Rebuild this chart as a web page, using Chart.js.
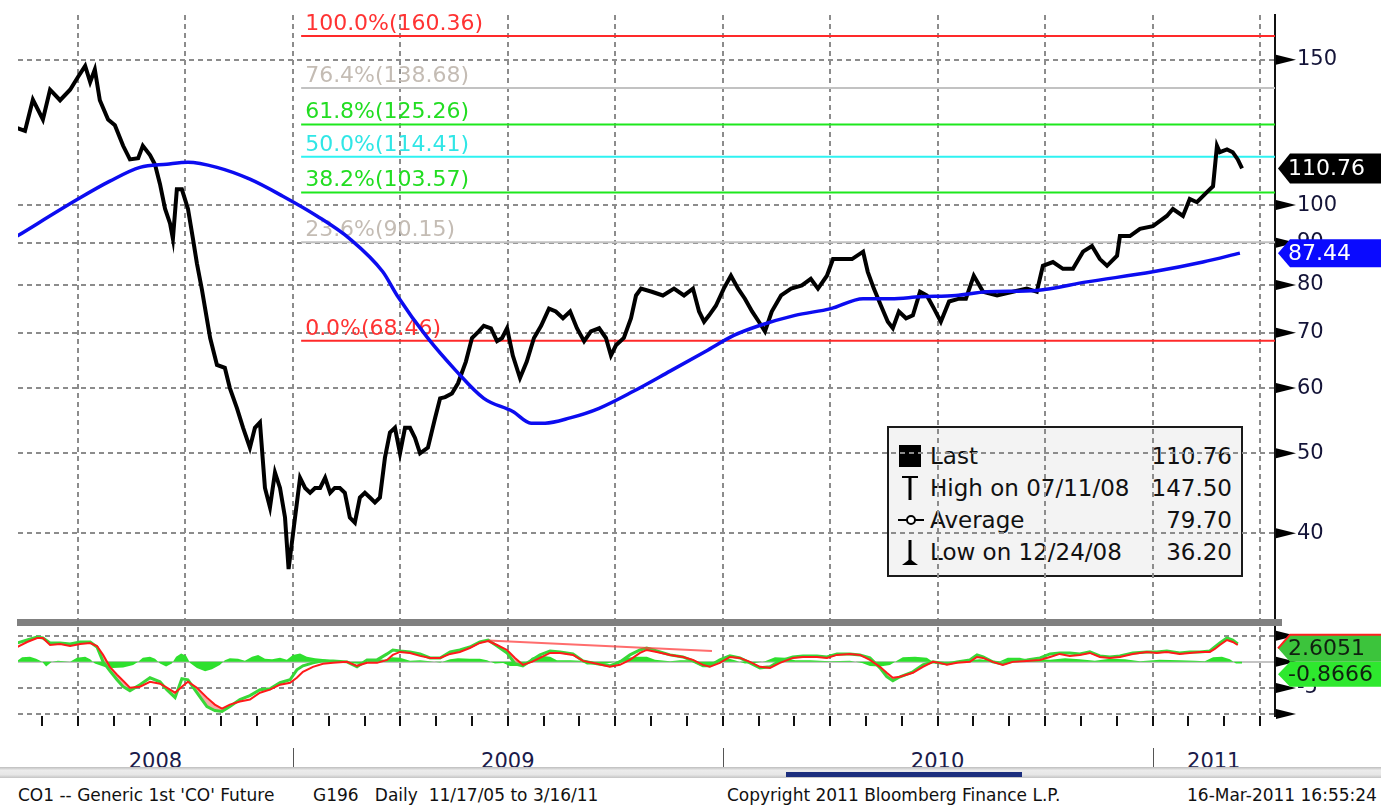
<!DOCTYPE html>
<html>
<head>
<meta charset="utf-8">
<script src="https://cdn.jsdelivr.net/npm/chart.js"></script>
<style>
  body { margin: 0; width: 1381px; height: 806px; overflow: hidden; position: relative; background: #fff; font-family: "DejaVu Sans", sans-serif; }
  canvas { position: absolute; left: 0; z-index: 2; }
  #main { top: 0; }
  #lower { top: 615px; }
  #legendBox { position: absolute; left: 887px; top: 426px; width: 352px; height: 147px; border: 2px solid #1a1a1a; background: #f3f3f3; z-index: 1; }
  .row { position: absolute; left: 0; width: 352px; height: 30px; line-height: 30px; font-size: 23px; color: #111; }
  .row svg { position: absolute; left: 9px; top: 0; }
  .row .lb { position: absolute; left: 41px; }
  .row .vl { position: absolute; right: 9px; }
  .year { position: absolute; top: 751px; width: 90px; height: 16px; overflow: hidden; text-align: center; font-size: 21px; line-height: 21px; color: #1a1a4a; }
  .sep { position: absolute; top: 748px; width: 1px; height: 19px; background: #555; }
  #band { position: absolute; left: 0; top: 767px; width: 1381px; height: 11px; background: linear-gradient(#bdbdbd, #ececec 30%, #e6e6e6 70%, #c4c4c4); }
  #thumb { position: absolute; left: 786px; top: 772px; width: 236px; height: 5px; background: #1c2f7e; }
  .foot { position: absolute; top: 787px; font-size: 17px; line-height: 17px; color: #111; white-space: pre; }
</style>
</head>
<body>
<div id="legendBox">
  <div class="row" style="top:13px"><svg width="26" height="30"><rect x="1" y="4" width="22" height="22" fill="#000"/></svg><span class="lb">Last</span><span class="vl">110.76</span></div>
  <div class="row" style="top:45px"><svg width="26" height="30"><line x1="4" y1="4" x2="20" y2="4" stroke="#000" stroke-width="2"/><line x1="12" y1="4" x2="12" y2="27" stroke="#000" stroke-width="3"/></svg><span class="lb">High on 07/11/08</span><span class="vl">147.50</span></div>
  <div class="row" style="top:77px"><svg width="26" height="30"><line x1="0" y1="15" x2="26" y2="15" stroke="#000" stroke-width="2"/><circle cx="13" cy="15" r="4" fill="#fff" stroke="#000" stroke-width="2"/></svg><span class="lb">Average</span><span class="vl">79.70</span></div>
  <div class="row" style="top:109px"><svg width="26" height="30"><line x1="12" y1="3" x2="12" y2="26" stroke="#000" stroke-width="3"/><path d="M4 28 L20 28 L12 22 Z" fill="#000"/></svg><span class="lb">Low on 12/24/08</span><span class="vl">36.20</span></div>
</div>
<canvas id="main" width="1381" height="620"></canvas>
<canvas id="lower" width="1381" height="115"></canvas>
<div id="band"></div>
<div id="thumb"></div>
<div class="foot" style="left:18px">CO1 -- Generic 1st 'CO' Future</div>
<div class="foot" style="left:313px">G196   Daily  11/17/05 to 3/16/11</div>
<div class="foot" style="left:727px">Copyright 2011 Bloomberg Finance L.P.</div>
<div class="foot" style="left:1187px">16-Mar-2011 16:55:24</div>
<script>
// x values are months counted from 1 Jan 2008
var xMin = 4.325, xMax = 39.42;
var quarterTicks = [6, 9, 12, 15, 18, 21, 24, 27, 30, 33, 36, 39];
var monthTicks = [];
for (var m = 5; m <= 39; m++) monthTicks.push(m);
var priceTicks = [40, 50, 60, 70, 80, 90, 100, 150];
var macdTicks = [-10, -5, 0, 5];
var yearStart = [2008, 2009, 2010, 2011];

// CO1 price
var priceMonth = [4.30, 4.52, 4.74, 5.02, 5.22, 5.50, 5.78, 6.00, 6.20, 6.34, 6.47, 6.61, 6.84, 7.03, 7.26, 7.45, 7.68, 7.81, 8.01, 8.15,
  8.29, 8.43, 8.57, 8.65, 8.76, 8.90, 9.07, 9.21, 9.32, 9.46, 9.55, 9.69, 9.88, 10.10, 10.24, 10.44, 10.61, 10.80, 10.94, 11.08,
  11.22, 11.36, 11.50, 11.64, 11.78, 11.88, 12.06, 12.20, 12.34, 12.48, 12.62, 12.76, 12.90, 13.04, 13.17, 13.31, 13.45, 13.59, 13.73, 13.87,
  14.01, 14.15, 14.29, 14.43, 14.57, 14.71, 14.85, 14.99, 15.13, 15.27, 15.41, 15.55, 15.77, 15.97, 16.11, 16.25, 16.44, 16.61, 16.83, 17.00,
  17.19, 17.33, 17.53, 17.70, 17.84, 17.98, 18.14, 18.34, 18.53, 18.73, 18.93, 19.15, 19.34, 19.54, 19.74, 19.93, 20.13, 20.32, 20.55, 20.74,
  20.88, 21.02, 21.24, 21.44, 21.58, 21.72, 22.02, 22.33, 22.64, 22.92, 23.17, 23.34, 23.48, 23.62, 23.81, 24.03, 24.23, 24.43, 24.62, 24.82,
  25.01, 25.18, 25.37, 25.63, 25.91, 26.21, 26.46, 26.66, 26.91, 27.08, 27.30, 27.61, 27.92, 28.05, 28.22, 28.42, 28.61, 28.75, 28.92, 29.12,
  29.31, 29.51, 29.70, 29.90, 30.09, 30.32, 30.60, 30.79, 31.01, 31.27, 31.66, 32.10, 32.49, 32.77, 32.94, 33.22, 33.50, 33.78, 34.06, 34.31,
  34.53, 34.73, 35.01, 35.09, 35.37, 35.65, 36.01, 36.40, 36.57, 36.85, 37.04, 37.24, 37.52, 37.69, 37.80, 37.88, 38.08, 38.24, 38.38, 38.50];
var priceClose = [124.0, 123.0, 134.2, 127.0, 138.0, 134.0, 138.0, 143.0, 147.5, 141.0, 146.0, 134.0, 127.0, 125.0, 118.0, 113.6, 114.0, 118.0, 115.0, 112.0,
  106.0, 99.0, 95.0, 91.0, 104.5, 104.5, 99.0, 91.0, 85.0, 79.0, 74.9, 69.0, 64.0, 63.5, 60.0, 56.7, 53.7, 50.8, 53.7, 54.5,
  45.4, 43.0, 47.4, 45.4, 41.8, 36.2, 41.8, 46.7, 45.4, 44.8, 45.4, 45.4, 46.7, 44.8, 45.4, 45.4, 44.8, 41.8, 41.2, 44.2,
  44.8, 44.2, 43.6, 44.2, 49.4, 53.0, 53.7, 50.0, 53.7, 53.7, 52.2, 50.0, 50.8, 55.2, 58.3, 58.5, 59.1, 60.8, 64.6, 69.0,
  70.3, 71.4, 70.9, 68.4, 69.0, 70.9, 65.7, 61.7, 64.6, 69.0, 71.4, 74.9, 74.3, 72.9, 74.3, 70.9, 68.4, 70.3, 70.9, 69.0,
  65.7, 67.6, 69.0, 72.9, 77.7, 79.2, 78.5, 77.7, 79.2, 77.7, 79.2, 74.3, 72.2, 73.5, 75.5, 79.2, 82.1, 79.2, 77.0, 74.3,
  72.2, 70.3, 74.3, 77.7, 79.2, 79.9, 81.4, 79.2, 82.1, 86.0, 86.0, 86.0, 87.8, 83.0, 79.2, 75.5, 72.2, 70.9, 74.3, 72.9,
  73.5, 78.5, 77.7, 74.9, 72.2, 76.4, 77.0, 77.0, 82.1, 78.5, 77.7, 78.5, 79.2, 78.5, 84.4, 85.3, 83.7, 83.7, 87.8, 89.2,
  86.0, 84.4, 86.8, 91.7, 91.7, 93.6, 94.3, 97.0, 98.9, 97.0, 101.7, 100.8, 103.7, 105.4, 118.0, 115.9, 116.8, 115.9, 113.6, 110.76];

// moving average (blue)
var avgMonth = [4.30, 6.00, 6.89, 7.73, 8.48, 9.07, 9.88, 10.80, 11.72, 12.67, 13.59, 14.51, 14.91, 15.74, 16.55, 17.33, 18.14, 18.65, 19.04,
  19.74, 20.55, 21.52, 22.53, 23.53, 24.31, 25.01, 26.02, 27.02, 27.92, 28.70, 29.51, 30.51, 31.38, 32.77, 34.17, 36.01, 37.41, 38.44];
var avgValue = [91.7, 101.7, 106.9, 111.1, 112.1, 112.7, 111.1, 107.5, 102.5, 97.0, 91.0, 83.0, 77.7, 69.2, 63.0, 58.3, 56.2, 54.4, 54.4,
  55.2, 56.7, 59.5, 62.9, 66.5, 69.5, 71.4, 73.5, 74.9, 77.0, 77.0, 77.4, 77.7, 78.5, 78.8, 80.7, 83.0, 85.3, 87.44];

// Fibonacci retracement
var fibStartMonth = 12.23;
var fibPct = ['100.0%', '76.4%', '61.8%', '50.0%', '38.2%', '23.6%', '0.0%'];
var fibLevel = [160.36, 138.68, 125.26, 114.41, 103.57, 90.15, 68.46];

// lower panel
var macdMonth = [4.30, 4.58, 4.86, 5.02, 5.22, 5.50, 5.78, 6.06, 6.34, 6.53, 6.70, 6.89, 7.09, 7.26, 7.45, 7.73, 8.01, 8.29, 8.48, 8.71,
  8.90, 9.07, 9.32, 9.60, 9.82, 10.02, 10.24, 10.52, 10.80, 11.08, 11.36, 11.64, 11.92, 12.11, 12.28, 12.56, 12.84, 13.12, 13.51, 13.79,
  14.07, 14.35, 14.63, 14.79, 14.99, 15.27, 15.55, 15.83, 16.11, 16.39, 16.66, 16.94, 17.22, 17.45, 17.70, 17.98, 18.20, 18.42, 18.67, 18.90,
  19.18, 19.46, 19.82, 20.10, 20.49, 20.85, 21.13, 21.41, 21.69, 21.88, 22.16, 22.53, 22.89, 23.17, 23.45, 23.64, 23.92, 24.20, 24.48, 24.76,
  25.04, 25.32, 25.60, 25.96, 26.24, 26.63, 26.91, 27.19, 27.55, 27.83, 28.11, 28.39, 28.58, 28.75, 28.95, 29.31, 29.59, 29.87, 30.06, 30.26,
  30.54, 30.90, 31.10, 31.27, 31.54, 31.82, 32.10, 32.49, 32.86, 33.14, 33.41, 33.69, 33.97, 34.25, 34.53, 34.81, 35.09, 35.45, 35.84, 36.12,
  36.40, 36.76, 37.04, 37.32, 37.60, 37.74, 37.88, 38.08, 38.24, 38.38];
var macdRed = [2.86, 3.82, 4.58, 4.58, 3.24, 3.44, 3.05, 3.44, 3.63, 3.05, 1.34, -0.95, -2.48, -3.63, -4.96, -4.77, -3.82, -4.20, -4.96, -5.92,
  -4.77, -3.82, -4.96, -6.87, -8.21, -8.97, -8.21, -7.63, -7.25, -5.92, -5.34, -4.39, -4.01, -3.05, -1.91, -0.95, -0.38, -0.19, 0, -0.76,
  -0.19, -0.19, 0.38, 1.34, 1.91, 1.72, 1.15, 0.76, 0.76, 1.53, 1.91, 2.67, 3.63, 4.01, 3.24, 2.29, 0.76, -0.57, 0, 0.76,
  1.72, 1.72, 1.34, 0.19, -0.38, -0.95, -0.57, 0.38, 1.72, 2.29, 1.91, 1.34, 0.95, 0.38, -0.57, -0.95, -0.19, 0.95, 0.76, 0,
  -0.95, -1.15, -0.19, 0.76, 0.95, 0.95, 0.76, 1.34, 1.53, 1.34, 0.38, -0.95, -2.10, -3.05, -2.86, -2.10, -0.95, 0, -0.19, -0.57,
  -0.19, 0, 0.95, 0.76, 0, -0.57, 0, 0.19, 0.38, 0.95, 1.53, 1.15, 1.34, 1.72, 0.95, 0.76, 0.95, 1.53, 1.91, 1.72,
  1.91, 1.53, 1.72, 1.91, 1.91, 2.48, 3.24, 4.20, 3.82, 3.24];
var macdGreen = [3.63, 4.20, 4.77, 4.58, 3.63, 3.63, 3.44, 3.82, 3.82, 2.86, 0, -1.72, -3.44, -4.77, -5.53, -4.39, -3.05, -3.82, -5.34, -6.87,
  -3.24, -3.44, -5.92, -8.59, -9.35, -9.54, -8.59, -7.25, -6.49, -5.34, -5.15, -4.01, -3.44, -1.53, -0.76, -0.19, 0.19, 0.19, 0, -0.95,
  0.38, 0.38, 1.53, 2.29, 2.10, 1.91, 1.53, 0.76, 0.76, 1.91, 2.29, 2.86, 3.82, 4.20, 3.05, 1.72, -0.38, -0.76, 0.38, 1.34,
  2.10, 1.91, 1.53, 0.19, -0.38, -0.76, 0, 1.34, 2.29, 2.67, 2.10, 1.34, 0.95, 0.19, -0.76, -0.76, 0.38, 1.15, 0.76, -0.19,
  -1.15, -0.95, 0.19, 0.95, 1.15, 1.15, 0.95, 1.53, 1.53, 1.34, 0.76, -1.15, -2.86, -3.63, -2.86, -1.91, -0.57, 0, -0.19, -0.38,
  0, 0.38, 1.34, 0.95, 0, -0.38, 0.19, 0.38, 0.76, 1.53, 1.72, 1.72, 1.53, 1.91, 1.15, 0.95, 1.15, 1.72, 1.91, 1.91,
  2.10, 1.72, 1.91, 1.91, 2.10, 2.86, 3.63, 4.58, 4.20, 3.44];
var histMonth = [4.30, 4.44, 4.66, 4.83, 5.00, 5.11, 5.27, 5.44, 5.78, 5.97, 6.20, 6.34, 6.47, 6.75, 6.98, 7.26, 7.54, 7.68, 7.81, 8.01,
  8.15, 8.29, 8.46, 8.62, 8.74, 8.88, 9.02, 9.13, 9.32, 9.55, 9.74, 9.96, 10.10, 10.24, 10.47, 10.66, 10.86, 11.03, 11.22, 11.42,
  11.64, 11.83, 12.00, 12.20, 12.39, 12.62, 12.90, 13.17, 13.45, 13.73, 13.93, 14.15, 14.38, 14.57, 14.77, 14.99, 15.27, 15.55, 15.83, 16.11,
  16.39, 16.61, 16.94, 17.22, 17.42, 17.64, 17.87, 18.06, 18.34, 18.53, 18.67, 18.90, 19.18, 19.37, 19.74, 20.02, 20.21, 20.49, 20.77, 21.05,
  21.33, 21.61, 21.88, 22.11, 22.53, 22.81, 23.09, 23.36, 23.59, 23.76, 23.92, 24.14, 24.34, 24.62, 24.90, 25.18, 25.46, 25.74, 26.02, 26.44,
  26.99, 27.55, 27.89, 28.11, 28.39, 28.67, 28.86, 29.03, 29.37, 29.70, 29.93, 30.15, 30.40, 31.18, 31.46, 31.74, 31.96, 32.30, 32.58, 32.86,
  33.14, 33.56, 33.97, 34.39, 34.81, 35.23, 35.65, 36.20, 36.76, 37.18, 37.46, 37.69, 37.94, 38.16, 38.33, 38.50];
var histValue = [0.2, 0.9, 1.0, 0.6, 0, -0.9, 0, 0.2, 0, 0.8, 1.0, 0.5, -0.3, -1.0, -1.2, -1.1, -0.6, 0, 0.8, 1.0,
  0.6, -0.3, -0.9, -0.3, 1.0, 1.6, 1.2, -0.2, -1.2, -1.8, -1.4, -0.6, 0.3, 0.7, 0.6, 0.2, 1.0, 1.3, 0.6, 0.5,
  0.8, 0.4, 1.3, 1.6, 1.0, 0.7, 0.5, 0.2, 0.1, -0.3, -0.4, 0.3, 0.5, 0.4, 0.9, 0.8, 0.2, 0.3, 0.1, -0.1,
  0.5, 0.7, 0.6, 0.6, 0.3, -0.3, -0.2, -0.8, -0.8, -0.3, 0.8, 1.2, 1.0, 0.3, 0.3, 0.2, -0.5, -0.5, -0.3, 0.1,
  0.8, 1.0, 1.0, 0.4, 0.1, 0.3, 0.3, -0.7, -0.9, -0.3, 0.5, 0.7, 0.3, -0.3, -0.2, 0.1, 0.9, 0.8, 0.3, 0.3,
  0.1, 0.2, -0.2, -0.8, -0.9, -0.6, 0.2, 0.9, 1.0, 0.8, -0.3, -0.5, 0, 0.5, 0.3, 0.1, 0.8, 0.8, 0.2, 0.5,
  0.4, 0.7, 0.5, 0.2, 0.6, 0.5, 0.1, 0.4, 0.3, 0.2, 0.1, 0.9, 1.0, 0.5, -0.3, -0.3];
var trendMonth = [17.45, 23.70];
var trendValue = [4.1, 2.1];
var macdLast = 2.6051, histLast = -0.8666;

var fibColors = ['#ff2a2a', '#c2c2c2', '#1ee81e', '#2ef2f2', '#1ee81e', '#c2c2c2', '#ff2a2a'];
var fibTextColors = ['#ff3333', '#c4bcb4', '#22dd22', '#30e6e6', '#22dd22', '#c4bcb4', '#ff3333'];
var gridGray = '#8c8c8c';
var tickFont = { family: 'DejaVu Sans', size: 21 };

function pts(xs, ys) {
  return xs.map(function (x, i) { return { x: x, y: ys[i] }; });
}

function pointers(chart) {
  var ctx = chart.ctx, s = chart.scales.y, x0 = chart.chartArea.right + 1;
  ctx.save();
  ctx.fillStyle = '#000';
  s.ticks.forEach(function (t) {
    var y = s.getPixelForValue(t.value);
    ctx.beginPath();
    ctx.moveTo(x0, y - 5);
    ctx.lineTo(x0 + 20, y);
    ctx.lineTo(x0, y + 5);
    ctx.closePath();
    ctx.fill();
  });
  ctx.restore();
}

function tag(chart, y, h, fill, text, textColor, topLine) {
  var ctx = chart.ctx, x0 = chart.chartArea.right + 3, x1 = chart.width;
  ctx.save();
  ctx.beginPath();
  ctx.moveTo(x0, y);
  ctx.lineTo(x0 + 12, y - h);
  ctx.lineTo(x1, y - h);
  ctx.lineTo(x1, y + h);
  ctx.lineTo(x0 + 12, y + h);
  ctx.closePath();
  ctx.fillStyle = fill;
  ctx.fill();
  if (topLine) {
    ctx.beginPath();
    ctx.moveTo(x0, y);
    ctx.lineTo(x0 + 12, y - h);
    ctx.lineTo(x1, y - h);
    ctx.strokeStyle = topLine;
    ctx.lineWidth = 2;
    ctx.stroke();
  }
  ctx.fillStyle = textColor;
  ctx.font = '22px "DejaVu Sans"';
  ctx.textBaseline = 'middle';
  ctx.textAlign = 'left';
  ctx.fillText(text, x0 + 10, y + 1);
  ctx.restore();
}

var mainPlugin = {
  id: 'mainExtras',
  beforeDatasetsDraw: function (chart) {
    var ctx = chart.ctx, xs = chart.scales.x, ys = chart.scales.y;
    ctx.save();
    ctx.font = '22px "DejaVu Sans"';
    ctx.textBaseline = 'bottom';
    fibLevel.forEach(function (lv, i) {
      ctx.fillStyle = fibTextColors[i];
      ctx.fillText(fibPct[i] + '(' + lv.toFixed(2) + ')', xs.getPixelForValue(fibStartMonth) + 4, ys.getPixelForValue(lv) - 1);
    });
    ctx.restore();
  },
  afterDraw: function (chart) {
    var ys = chart.scales.y;
    pointers(chart);
    tag(chart, ys.getPixelForValue(priceClose[priceClose.length - 1]), 15, '#000', priceClose[priceClose.length - 1].toFixed(2), '#fff');
    tag(chart, ys.getPixelForValue(avgValue[avgValue.length - 1]), 14, '#0a0aff', avgValue[avgValue.length - 1].toFixed(2), '#fff');
  }
};

var lowerPlugin = {
  id: 'lowerExtras',
  beforeDraw: function (chart) {
    var a = chart.chartArea, ctx = chart.ctx;
    ctx.save();
    ctx.fillStyle = '#808080';
    ctx.fillRect(a.left - 1, a.top - 8, a.right - a.left + 8, 7);
    ctx.restore();
  },
  afterDraw: function (chart) {
    var ys = chart.scales.y;
    pointers(chart);
    var y1 = ys.getPixelForValue(macdLast);
    var y2 = Math.max(ys.getPixelForValue(histLast), y1 + 26);
    tag(chart, y2, 12.5, '#2ee82e', histLast.toFixed(4), '#102010');
    tag(chart, y1, 13.5, '#3cc43c', macdLast.toFixed(4), '#102010', '#ff2020');
  }
};

var fibSets = fibLevel.map(function (lv, i) {
  return {
    data: [{ x: fibStartMonth, y: lv }, { x: xMax, y: lv }],
    borderColor: fibColors[i], borderWidth: 2, order: 5
  };
});

var mainChart = new Chart(document.getElementById('main').getContext('2d'), {
  type: 'line',
  data: {
    datasets: [
      { data: pts(avgMonth, avgValue), borderColor: '#0c0cf0', borderWidth: 3.5, cubicInterpolationMode: 'monotone', order: 0 },
      { data: pts(priceMonth, priceClose), borderColor: '#000', borderWidth: 4, order: 1 }
    ].concat(fibSets)
  },
  options: {
    responsive: false,
    animation: false,
    layout: { padding: { left: 18, top: 15, right: 0, bottom: 0 } },
    plugins: { legend: { display: false }, tooltip: { enabled: false } },
    elements: { point: { radius: 0 }, line: { tension: 0 } },
    scales: {
      x: {
        type: 'linear', min: xMin, max: xMax,
        afterBuildTicks: function (s) { s.ticks = quarterTicks.map(function (v) { return { value: v }; }); },
        afterFit: function (s) { s.height = 0; s.paddingLeft = 0; s.paddingRight = 0; },
        ticks: { display: false },
        grid: { color: gridGray, lineWidth: 2, drawTicks: false },
        border: { display: false, dash: [5, 4] }
      },
      y: {
        type: 'logarithmic', position: 'right', min: 31.4, max: 170,
        afterBuildTicks: function (s) { s.ticks = priceTicks.map(function (v) { return { value: v }; }); },
        afterFit: function (s) { s.width = 106; s.paddingTop = 0; s.paddingBottom = 0; },
        ticks: { padding: 22, autoSkip: false, font: tickFont, color: '#141438', callback: function (v) { return String(v); } },
        grid: { color: gridGray, lineWidth: 2, drawTicks: false },
        border: { display: true, color: '#111', width: 2, dash: [5, 4] }
      }
    }
  },
  plugins: [mainPlugin]
});

var lowerChart = new Chart(document.getElementById('lower').getContext('2d'), {
  type: 'line',
  data: {
    datasets: [
      { data: pts(macdMonth, macdRed), borderColor: '#ff1a1a', borderWidth: 2, order: 0 },
      { data: pts(macdMonth, macdGreen), borderColor: '#38d838', borderWidth: 3, order: 1,
        fill: { target: 0, above: 'rgba(0,0,0,0)', below: 'rgba(240,140,140,0.75)' } },
      { data: pts(histMonth, histValue), borderColor: 'rgba(0,0,0,0)', borderWidth: 0, backgroundColor: '#2ee02e', fill: 'origin', order: 2 },
      { data: pts(trendMonth, trendValue), borderColor: 'rgba(255,60,60,0.75)', borderWidth: 2, order: 0 }
    ]
  },
  options: {
    responsive: false,
    animation: false,
    layout: { padding: { left: 18, top: 12, right: 0, bottom: 0 } },
    plugins: { legend: { display: false }, tooltip: { enabled: false } },
    elements: { point: { radius: 0 }, line: { tension: 0 } },
    scales: {
      x: {
        type: 'linear', min: xMin, max: xMax,
        afterBuildTicks: function (s) { s.ticks = monthTicks.map(function (v) { return { value: v }; }); },
        afterFit: function (s) { s.height = 14; s.paddingLeft = 0; s.paddingRight = 0; },
        ticks: { display: false },
        grid: {
          color: function (c) { return c.tick && c.tick.value % 3 === 0 ? gridGray : 'rgba(0,0,0,0)'; },
          lineWidth: 2, drawTicks: true, tickLength: 10, tickColor: '#111', tickWidth: 2
        },
        border: { display: false, dash: [5, 4] }
      },
      y: {
        type: 'linear', position: 'right', min: -10.4, max: 6.7,
        afterBuildTicks: function (s) { s.ticks = macdTicks.map(function (v) { return { value: v }; }); },
        afterFit: function (s) { s.width = 106; s.paddingTop = 0; s.paddingBottom = 0; },
        ticks: { padding: 22, autoSkip: false, font: tickFont, color: '#141438', callback: function (v) { return v === -5 ? '-5' : ''; } },
        grid: {
          color: function (c) { return c.tick && c.tick.value === 0 ? '#c4c4c4' : gridGray; },
          lineWidth: 2, drawTicks: false
        },
        border: {
          display: true, color: '#111', width: 2,
          dash: function (c) { return c.tick && c.tick.value === 0 ? [] : [5, 4]; }
        }
      }
    }
  },
  plugins: [lowerPlugin]
});

// year labels under the lower panel, placed with the x scale
var xs = lowerChart.scales.x;
yearStart.forEach(function (yr) {
  var a = Math.max(xMin, (yr - 2008) * 12), b = Math.min(xMax, (yr - 2007) * 12);
  var c = (xs.getPixelForValue(a) + xs.getPixelForValue(b)) / 2;
  var d = document.createElement('div');
  d.className = 'year';
  d.textContent = yr;
  d.style.left = (c - 45) + 'px';
  document.body.appendChild(d);
  if ((yr - 2008) * 12 > xMin) {
    var s = document.createElement('div');
    s.className = 'sep';
    s.style.left = Math.round(xs.getPixelForValue((yr - 2008) * 12)) + 'px';
    document.body.appendChild(s);
  }
});
</script>
</body>
</html>
